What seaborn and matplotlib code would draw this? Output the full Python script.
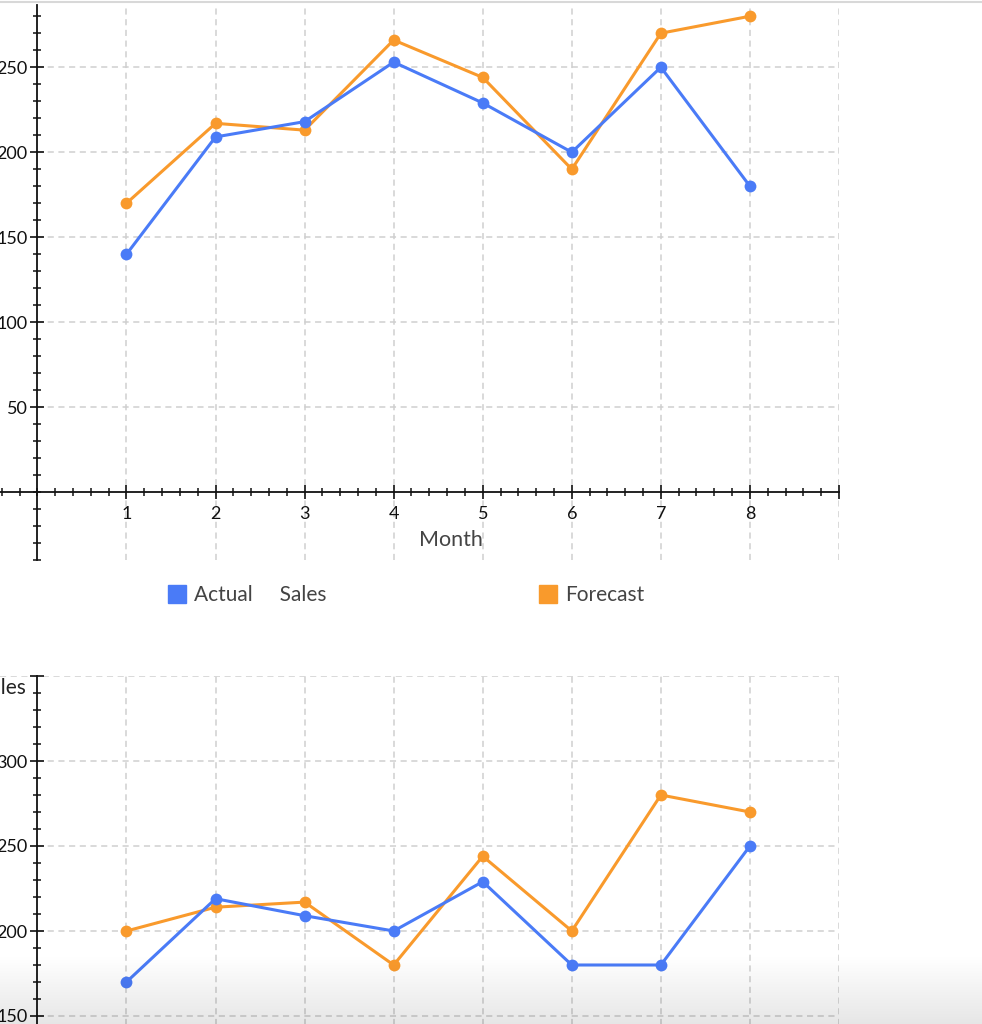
import numpy as np
import pandas as pd
import matplotlib
matplotlib.use("Agg")
import matplotlib.pyplot as plt
from matplotlib.lines import Line2D
from matplotlib.ticker import MultipleLocator
import seaborn as sns

sns.set_theme(style="ticks")
plt.rcParams['font.family'] = ['Lato', 'DejaVu Sans']

# values
months = [1, 2, 3, 4, 5, 6, 7, 8]
top_actual = [140, 209, 218, 253, 229, 200, 250, 180]
top_forecast = [170, 217, 213, 266, 244, 190, 270, 280]
bottom_actual = [170, 219, 209, 200, 229, 180, 180, 250]
bottom_forecast = [200, 214, 217, 180, 244, 200, 280, 270]

actual_name = "Actual     Sales"
forecast_name = "Forecast"
palette = {actual_name: "#4a7bf7", forecast_name: "#f99a2c"}

top_ticks_y = [50, 100, 150, 200, 250]
bottom_ticks_y = [150, 200, 250, 300, 350]
x_ticks = [1, 2, 3, 4, 5, 6, 7, 8, 9]
x_labels = ["1", "2", "3", "4", "5", "6", "7", "8", ""]


def long_df(actual, forecast):
    return pd.DataFrame({
        "Month": months * 2,
        "Sales": forecast + actual,
        "Series": [forecast_name] * len(months) + [actual_name] * len(months),
    })


grid_kw = dict(color="#cfcfcf", linestyle=(0, (4, 3)), linewidth=1.1, zorder=0)

fig = plt.figure(figsize=(9.82, 10.24), dpi=100)
W, H = 982, 1024

ax1 = fig.add_axes([0, 1 - 560.3 / H, 839 / W, 555.3 / H])
ax2 = fig.add_axes([0, (H - 1033) / H, 839 / W, 357 / H])

for ax, actual, forecast in [(ax1, top_actual, top_forecast),
                             (ax2, bottom_actual, bottom_forecast)]:
    sns.lineplot(data=long_df(actual, forecast), x="Month", y="Sales",
                 hue="Series", hue_order=[forecast_name, actual_name],
                 palette=palette, marker="o", markersize=8.5,
                 markeredgewidth=0, linewidth=2.2, legend=False, ax=ax,
                 zorder=3)
    ax.set_xlim(-0.42, 9)
    ax.set_xticks(x_ticks)
    ax.xaxis.set_minor_locator(MultipleLocator(0.2))
    ax.yaxis.set_minor_locator(MultipleLocator(10))
    ax.grid(False)
    ax.grid(axis="x", which="major", **grid_kw)
    ax.spines["left"].set_position(("data", 0))
    ax.spines["right"].set_visible(False)
    ax.spines["top"].set_visible(False)
    for s in ax.spines.values():
        s.set_color("#111111")
        s.set_linewidth(1.3)
    ax.tick_params(which="both", bottom=True, left=True)
    ax.tick_params(which="major", direction="inout", length=10, width=1.2,
                   color="#111111", labelsize=13, labelcolor="#111111")
    ax.tick_params(axis="x", which="major", pad=5)
    ax.tick_params(axis="y", which="major", pad=2)
    ax.tick_params(which="minor", direction="inout", length=6, width=1.1,
                   color="#111111")
    ax.set_facecolor("none")
    ax.set_ylabel("")
    ax.set_xlabel("")

# top chart
ax1.set_ylim(-40, 286.6)
ax1.set_yticks(top_ticks_y)
ax1.hlines(top_ticks_y, 0, 9, **grid_kw)
ax1.spines["bottom"].set_position(("data", 0))
ax1.set_xticklabels(x_labels)
ax1.set_xlabel("Month", fontsize=15.5, color="#444444")
ax1.xaxis.set_label_coords(451 / 839, (560.3 - 530) / 555.3)

# bottom chart
ax2.set_ylim(140, 350)
ax2.set_yticks(bottom_ticks_y)
ax2.set_yticklabels([str(v) for v in bottom_ticks_y[:-1]] + [""])
ax2.hlines(bottom_ticks_y[:-1], 0, 9, **grid_kw)
ax2.hlines(bottom_ticks_y[-1], -0.42, 9, **grid_kw)
ax2.spines["bottom"].set_visible(False)
ax2.tick_params(axis="x", which="both", length=0, labelbottom=False)
ax2.set_ylabel("Sales", fontsize=15, color="#222222", rotation=0,
               ha="right", va="center")
ax2.yaxis.set_label_coords(26 / 839, (1033 - 688) / 357)

# legend below the top chart
handles = [Line2D([], [], marker="s", linestyle="", markersize=13,
                  color=palette[n]) for n in [actual_name, forecast_name]]
fig.legend(handles, [actual_name, forecast_name], loc="center left",
           bbox_to_anchor=(168 / W, 1 - 595 / H), ncol=2, frameon=False,
           fontsize=15, labelcolor="#444444", handlelength=0.9,
           handletextpad=0.35, columnspacing=10.2, borderpad=0,
           borderaxespad=0)

# screenshot border at the top and soft shadow at the bottom
fig.add_artist(Line2D([0, 1], [1 - 2 / H, 1 - 2 / H], color="#d8d8d8",
                      linewidth=1.5, transform=fig.transFigure))
shade = fig.add_axes([0, 0, 1, 70 / H], zorder=10)
grad = np.zeros((70, 2, 4))
grad[..., 3] = np.linspace(0, 0.1, 70)[:, None]
shade.imshow(grad, aspect="auto", extent=(0, 1, 0, 1))
shade.axis("off")

fig.savefig("out.png", dpi=100)
